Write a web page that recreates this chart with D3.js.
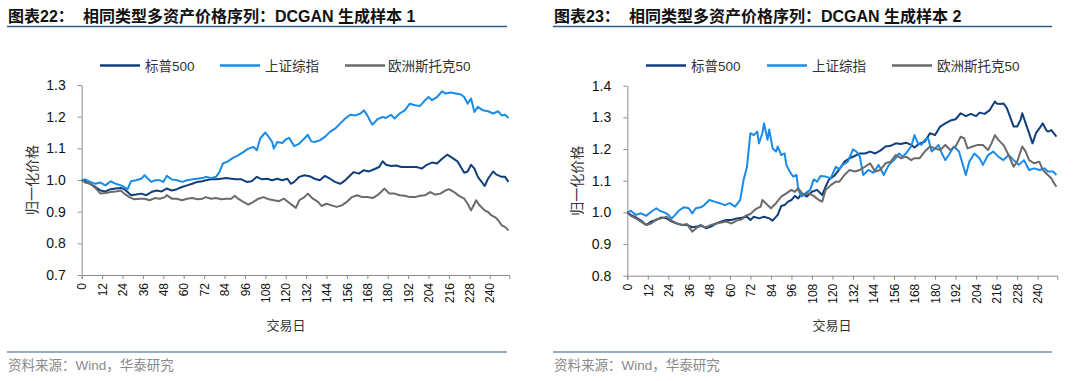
<!DOCTYPE html>
<html><head><meta charset="utf-8">
<script src="https://cdn.jsdelivr.net/npm/d3@7"></script>
<style>body{margin:0;background:#fff;} svg{display:block;}</style>
</head><body><svg id="c" width="1080" height="381"></svg>
<script>
// ---------- labels ----------
const seriesNames = ["标普500", "上证综指", "欧洲斯托克50"];
const seriesColors = ["#123f7c", "#1a8be8", "#6b6b6b"];
const xTickValues = d3.range(0, 241, 12);
const yTicks1 = [0.7, 0.8, 0.9, 1.0, 1.1, 1.2, 1.3];
const yTicks2 = [0.8, 0.9, 1.0, 1.1, 1.2, 1.3, 1.4];
const titles = [["图表22：", "相同类型多资产价格序列：DCGAN 生成样本 1"], ["图表23：", "相同类型多资产价格序列：DCGAN 生成样本 2"]];
const yTitle = "归一化价格";
const xTitle = "交易日";
const sourceText = "资料来源：Wind，华泰研究";

// ---------- chart 1 data (day, value) ----------
const c1_sp_d = [0,2,5,8,11,14,17,20,23,25,27,29,32,35,38,41,44,47,50,53,56,59,62,65,68,71,73,76,79,82,85,88,91,94,97,100,103,106,109,112,115,118,121,123,125,128,131,134,137,140,143,146,149,152,155,158,160,163,166,169,172,175,177,179,182,185,188,191,194,197,200,203,206,209,212,215,218,221,223,225,227,229,231,233,235,237,239,242,244,247,249,251];
const c1_sp_v = [1.0,0.996,0.988,0.978,0.967,0.964,0.971,0.973,0.975,0.971,0.962,0.952,0.954,0.957,0.952,0.962,0.967,0.964,0.973,0.967,0.971,0.978,0.983,0.988,0.994,0.996,0.999,1.002,1.002,1.004,1.006,1.004,1.002,1.002,0.994,0.996,1.010,1.002,1.004,0.999,1.004,0.999,1.004,0.988,0.994,1.010,1.015,1.012,1.004,0.999,1.013,1.004,0.994,0.988,0.999,1.015,1.025,1.020,1.031,1.027,1.034,1.041,1.059,1.048,1.044,1.046,1.041,1.041,1.041,1.041,1.036,1.048,1.055,1.052,1.067,1.080,1.070,1.059,1.041,1.023,1.027,1.048,1.036,1.010,0.996,0.981,1.004,1.027,1.017,1.010,1.010,0.994];
const c1_sh_d = [0,2,5,8,11,14,17,20,23,25,27,29,32,35,37,39,41,43,46,48,50,53,56,59,62,65,68,71,73,76,79,81,83,86,89,92,95,98,101,103,105,108,110,112,113,115,118,120,122,125,128,131,133,135,137,140,143,146,149,152,155,158,161,164,166,168,170,171,174,177,179,182,184,187,190,193,196,199,202,204,206,209,212,214,217,220,223,225,227,229,231,233,236,239,242,245,247,249,251];
const c1_sh_v = [1.0,1.002,0.994,0.988,0.992,0.983,0.996,0.988,0.983,0.978,0.971,0.996,0.999,1.004,1.015,1.004,0.994,0.999,0.999,0.994,1.013,1.002,0.999,0.994,0.999,1.002,1.004,1.006,1.010,1.006,1.010,1.025,1.052,1.059,1.070,1.078,1.088,1.099,1.104,1.094,1.131,1.150,1.136,1.120,1.099,1.120,1.117,1.128,1.133,1.107,1.115,1.131,1.143,1.122,1.120,1.125,1.136,1.152,1.162,1.178,1.194,1.206,1.204,1.210,1.220,1.204,1.183,1.175,1.192,1.199,1.196,1.206,1.194,1.210,1.220,1.241,1.236,1.234,1.252,1.262,1.252,1.262,1.280,1.273,1.276,1.273,1.270,1.262,1.241,1.257,1.215,1.231,1.220,1.217,1.210,1.217,1.204,1.206,1.196];
const c1_eu_d = [0,2,5,8,11,14,17,20,23,25,28,31,34,37,40,43,46,49,50,53,56,59,62,65,68,71,73,76,79,82,85,88,90,92,95,98,101,104,107,110,113,116,119,122,124,126,128,131,133,136,139,141,144,147,150,153,156,159,162,165,168,171,174,177,178,181,184,187,190,193,196,199,202,205,208,211,214,216,219,222,225,227,229,231,232,234,237,239,241,243,245,247,249,251];
const c1_eu_v = [1.0,0.992,0.988,0.975,0.957,0.959,0.962,0.964,0.967,0.957,0.946,0.939,0.941,0.941,0.936,0.943,0.941,0.946,0.952,0.941,0.941,0.936,0.941,0.943,0.939,0.941,0.946,0.941,0.943,0.939,0.941,0.941,0.950,0.941,0.931,0.922,0.931,0.941,0.946,0.939,0.936,0.933,0.941,0.928,0.920,0.912,0.936,0.946,0.957,0.941,0.931,0.918,0.925,0.920,0.915,0.920,0.931,0.946,0.952,0.946,0.946,0.943,0.952,0.967,0.973,0.957,0.957,0.952,0.950,0.946,0.946,0.950,0.952,0.962,0.954,0.957,0.967,0.971,0.962,0.950,0.941,0.925,0.904,0.925,0.936,0.920,0.904,0.899,0.888,0.883,0.873,0.857,0.852,0.841];

// ---------- chart 2 data (day, value) ----------
const c2_sp_d = [0,2,5,8,11,14,17,20,23,26,29,32,35,38,41,43,46,49,52,55,58,61,64,67,70,72,74,77,80,83,85,88,90,92,94,96,98,100,102,105,108,111,114,116,118,121,123,124,127,130,133,136,139,142,145,148,151,154,157,160,163,166,168,171,174,177,180,183,186,189,192,195,198,201,204,206,209,212,215,216,218,220,222,224,226,228,230,231,233,235,237,239,241,243,245,246,248,251];
const c2_sp_v = [1.0,0.992,0.984,0.974,0.960,0.971,0.976,0.984,0.981,0.971,0.965,0.960,0.960,0.953,0.955,0.960,0.950,0.955,0.965,0.971,0.976,0.976,0.981,0.983,0.986,0.976,0.986,0.981,0.986,0.981,0.974,0.992,1.020,1.023,1.034,1.039,1.052,1.044,1.060,1.050,1.065,1.071,1.055,1.081,1.104,1.115,1.129,1.136,1.160,1.171,1.178,1.186,1.186,1.192,1.186,1.195,1.208,1.210,1.218,1.216,1.220,1.213,1.205,1.218,1.223,1.250,1.244,1.271,1.281,1.290,1.294,1.313,1.304,1.311,1.304,1.315,1.311,1.323,1.350,1.344,1.342,1.344,1.329,1.300,1.271,1.271,1.292,1.313,1.281,1.250,1.218,1.250,1.265,1.281,1.260,1.255,1.260,1.239];
const c2_sh_d = [0,2,5,8,11,14,17,19,22,24,26,28,30,33,36,38,40,43,45,48,51,54,57,60,63,66,68,70,72,74,76,77,79,80,82,83,85,87,88,90,92,93,95,97,99,100,102,104,107,109,111,113,116,119,122,124,126,129,132,134,136,138,141,144,147,150,153,156,159,161,163,166,168,170,172,174,176,178,180,182,184,186,188,191,194,196,198,200,203,206,208,211,214,217,220,223,226,229,232,235,238,241,244,246,249,251];
const c2_sh_v = [1.0,1.005,0.992,0.997,0.989,1.002,1.013,1.005,0.999,0.992,0.981,0.992,1.005,1.016,1.013,0.997,1.013,1.016,1.023,1.039,1.034,1.029,1.023,1.029,1.018,1.039,1.102,1.144,1.250,1.244,1.255,1.218,1.250,1.281,1.229,1.262,1.202,1.192,1.208,1.181,1.186,1.150,1.129,1.113,1.118,1.071,1.050,1.060,1.071,1.104,1.097,1.115,1.113,1.108,1.144,1.136,1.150,1.160,1.199,1.192,1.176,1.118,1.134,1.125,1.150,1.118,1.150,1.165,1.186,1.176,1.186,1.208,1.244,1.218,1.213,1.229,1.234,1.192,1.202,1.213,1.186,1.165,1.181,1.208,1.192,1.155,1.118,1.160,1.186,1.171,1.150,1.181,1.192,1.176,1.165,1.181,1.165,1.150,1.165,1.134,1.139,1.134,1.139,1.129,1.129,1.118];
const c2_eu_d = [0,2,5,8,11,14,17,20,23,26,29,32,35,38,41,43,46,49,52,55,58,61,64,67,69,72,75,78,79,82,84,87,90,93,96,98,100,103,106,109,112,114,116,119,122,124,127,130,133,136,139,142,145,148,151,154,157,160,163,166,168,171,174,177,180,183,186,189,192,195,197,199,202,205,208,211,213,215,217,220,223,226,228,231,233,235,238,241,243,246,248,249,251];
const c2_eu_v = [1.0,0.989,0.981,0.971,0.960,0.965,0.978,0.981,0.986,0.974,0.965,0.960,0.963,0.939,0.953,0.957,0.953,0.960,0.965,0.968,0.971,0.965,0.974,0.978,0.989,0.995,1.010,1.018,1.039,1.023,1.013,1.029,1.050,1.060,1.071,1.065,1.076,1.055,1.060,1.052,1.039,1.034,1.071,1.086,1.097,1.097,1.118,1.134,1.129,1.134,1.144,1.155,1.129,1.134,1.155,1.160,1.181,1.171,1.176,1.165,1.171,1.171,1.192,1.208,1.202,1.197,1.213,1.197,1.208,1.239,1.234,1.202,1.208,1.213,1.213,1.197,1.218,1.244,1.229,1.213,1.181,1.144,1.160,1.208,1.192,1.165,1.155,1.160,1.134,1.118,1.108,1.097,1.081];

const zip = (d, v) => d.map((x, i) => [x, v[i]]);

const panels = [
  { x0: 7, x1: 507, xr: [81.7, 509.3], yr: [275, 85], yd: [0.7, 1.3], yt: yTicks1,
    titleX: [8, 83], legend: [[100, 145], [220, 265], [345, 388]], yTitleX: 32, xTitleX: 286,
    series: [zip(c1_sp_d, c1_sp_v), zip(c1_sh_d, c1_sh_v), zip(c1_eu_d, c1_eu_v)] },
  { x0: 553, x1: 1052, xr: [627.3, 1057.3], yr: [275.7, 85.7], yd: [0.8, 1.4], yt: yTicks2,
    titleX: [554, 629], legend: [[646, 691], [767, 812], [892, 937]], yTitleX: 577, xTitleX: 832,
    series: [zip(c2_sp_d, c2_sp_v), zip(c2_sh_d, c2_sh_v), zip(c2_eu_d, c2_eu_v)] }
];

const svg = d3.select("#c");
const FONT = "'Liberation Sans', Arial, 'Noto Sans CJK SC', sans-serif";

panels.forEach((p, pi) => {
  const g = svg.append("g");
  // title
  const t = g.append("text").attr("y", 22).attr("font-family", FONT).attr("font-size", 16)
    .attr("font-weight", "bold").attr("fill", "#111");
  t.append("tspan").attr("x", p.titleX[0]).text(titles[pi][0]);
  t.append("tspan").attr("x", p.titleX[1]).text(titles[pi][1]);
  g.append("line").attr("x1", p.x0).attr("x2", p.x1).attr("y1", 26.5).attr("y2", 26.5)
    .attr("stroke", "#2e5c8a").attr("stroke-width", 1.5);

  // legend
  p.legend.forEach((l, i) => {
    g.append("line").attr("x1", l[0]).attr("x2", l[0] + 40).attr("y1", 65.5).attr("y2", 65.5)
      .attr("stroke", seriesColors[i]).attr("stroke-width", 2.5);
    g.append("text").attr("x", l[1]).attr("y", 70.5).attr("font-family", FONT).attr("font-size", 13.5)
      .attr("fill", "#333").text(seriesNames[i]);
  });

  const x = d3.scaleLinear().domain([0, 251.5]).range(p.xr);
  const y = d3.scaleLinear().domain(p.yd).range(p.yr);

  // y axis
  const ya = g.append("g").attr("transform", `translate(${p.xr[0]},0)`)
    .call(d3.axisLeft(y).tickValues(p.yt).tickFormat(d3.format(".1f")).tickSize(4).tickSizeOuter(0).tickPadding(12));
  ya.selectAll("path,line").attr("stroke", "#8c8c8c");
  ya.selectAll("text").attr("font-family", FONT).attr("font-size", 14).attr("fill", "#111");

  // x axis
  const xa = g.append("g").attr("transform", `translate(0,${p.yr[0]})`)
    .call(d3.axisBottom(x).tickValues(xTickValues).tickFormat(d3.format("d")).tickSize(4).tickSizeOuter(4).tickPadding(5));
  xa.selectAll("path,line").attr("stroke", "#8c8c8c");
  xa.selectAll("text").attr("font-family", FONT).attr("font-size", 12).attr("fill", "#111")
    .attr("text-anchor", "end").attr("dy", "0.35em")
    .attr("transform", "rotate(-90)").attr("x", -8).attr("y", 0);

  // axis titles
  g.append("text").attr("transform", `translate(${p.yTitleX},${(p.yr[0] + p.yr[1]) / 2}) rotate(-90)`)
    .attr("text-anchor", "middle").attr("dy", "0.35em").attr("font-family", FONT).attr("font-size", 14)
    .attr("fill", "#333").text(yTitle);
  g.append("text").attr("x", p.xTitleX).attr("y", 330).attr("text-anchor", "middle")
    .attr("font-family", FONT).attr("font-size", 13).attr("fill", "#333").text(xTitle);

  // lines
  const line = d3.line().x(d => x(d[0])).y(d => y(d[1]));
  p.series.forEach((s, i) => {
    g.append("path").datum(s).attr("d", line).attr("fill", "none")
      .attr("stroke", seriesColors[i]).attr("stroke-width", 2).attr("stroke-linejoin", "round");
  });

  // footer
  g.append("line").attr("x1", p.x0).attr("x2", p.x1).attr("y1", 352).attr("y2", 352)
    .attr("stroke", "#2e5c8a").attr("stroke-width", 1.2);
  g.append("text").attr("x", p.x0 + 1).attr("y", 370).attr("font-family", FONT).attr("font-size", 13.5)
    .attr("fill", "#8a8a8a").text(sourceText);
});
</script></body></html>
